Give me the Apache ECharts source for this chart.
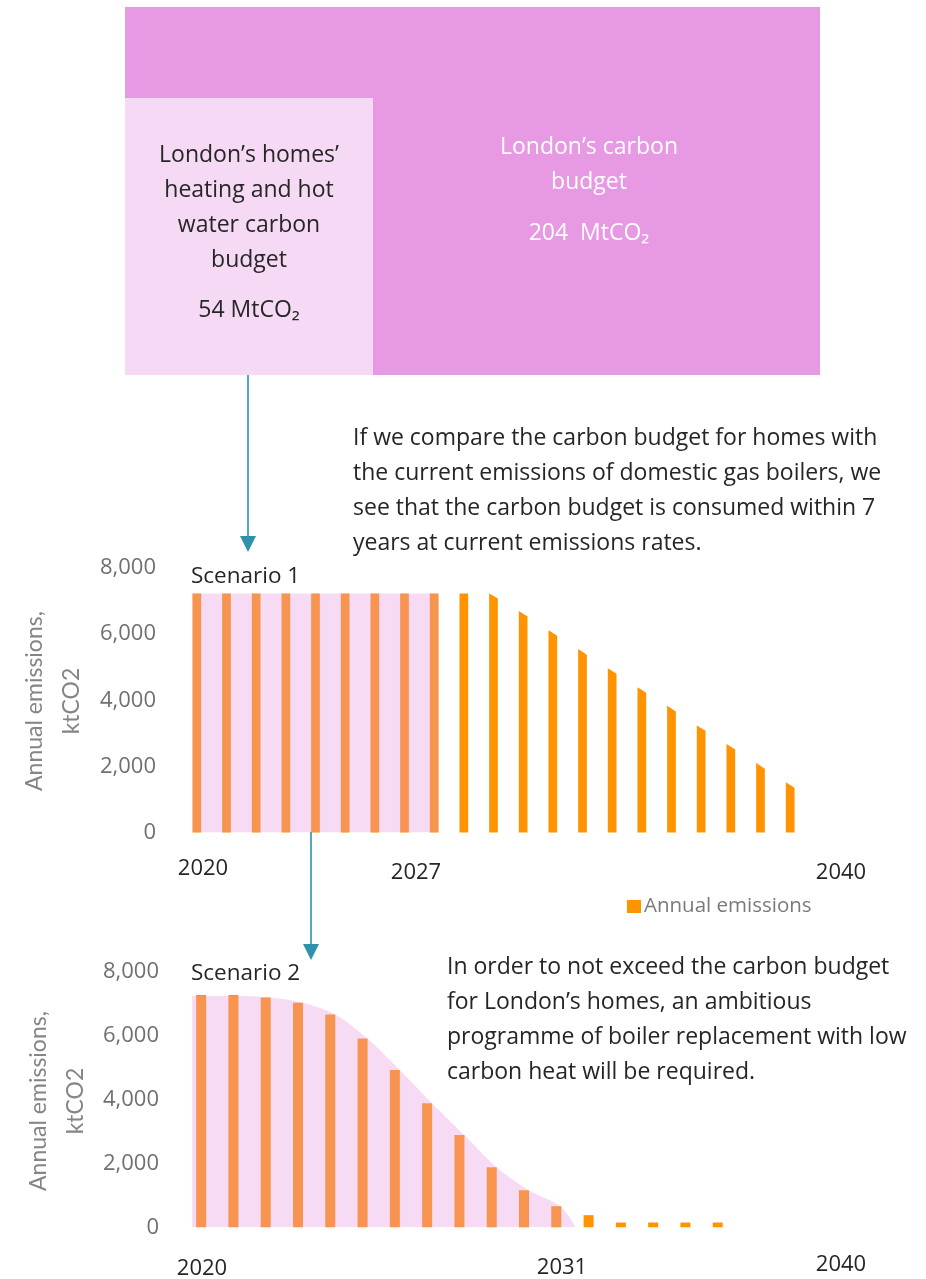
<!DOCTYPE html>
<html>
<head>
<meta charset="utf-8">
<script src="https://cdn.jsdelivr.net/npm/echarts@6/dist/echarts.min.js"></script>
<style>
  html, body { margin: 0; padding: 0; background: #fff; }
  #chart { width: 926px; height: 1279px; }
</style>
</head>
<body>
<div id="chart"></div>
<script>
// Scenario 1: current emissions, slowly falling after 2030
const years1 = [2020, 2021, 2022, 2023, 2024, 2025, 2026, 2027, 2028, 2029, 2030,
  2031, 2032, 2033, 2034, 2035, 2036, 2037, 2038, 2039, 2040]
const scenario1 = [7230, 7230, 7230, 7230, 7230, 7230, 7230, 7230, 7230, 7230, 7230,
  6700, 6120, 5550, 4970, 4390, 3830, 3240, 2680, 2100, 1520]
// years whose emissions use up the homes' budget (shaded)
const budget1Years = [2020, 2028]
const budget1Level = 7230
const scenario1Labels = ['2020', '2027', '2040']

// Scenario 2: rapid boiler replacement
const years2 = [2020, 2021, 2022, 2023, 2024, 2025, 2026, 2027, 2028, 2029, 2030,
  2031, 2032, 2033, 2034, 2035, 2036]
const scenario2 = [7280, 7280, 7200, 7040, 6670, 5920, 4930, 3890, 2890, 1880, 1160,
  660, 380, 150, 150, 150, 150]
// outline of the shaded budget curve (x in years, y in ktCO2)
const budget2X = [2019.72, 2020.15, 2021.15, 2022.15, 2023.15, 2024.15, 2025.15, 2026.15,
  2027.15, 2028.15, 2029.15, 2030.15, 2031.15, 2031.6]
const budget2Y = [7250, 7250, 7250, 7200, 7040, 6670, 5920, 4930, 3890, 2890, 1880, 1160, 640, 0]
const scenario2Labels = ['2020', '2031', '2040']

const yTicks = { min: 0, max: 8000, interval: 2000 }

const ORANGE = '#FF9300'
const PINK = '#E799E3'
const PINK_LIGHT = '#F6D9F4'
const PINK_OVERLAY = 'rgba(231, 152, 226, 0.35)'
const TEAL = '#2E91AE'
const DARK = '#262626'
const GREY = '#707070'
const FONT = '"Open Sans", "Noto Sans", sans-serif'
const NAME_FONT = 'Lato, "Noto Sans", sans-serif'

const barW1 = 8.7 // px
const halfYear1 = 0.147 // half bar width in years on chart 1

const chart = echarts.init(document.getElementById('chart'))

const yAxisBase = (gridIndex) => ({
  gridIndex,
  type: 'value',
  min: yTicks.min,
  max: yTicks.max,
  interval: yTicks.interval,
  axisLine: { show: false },
  axisTick: { show: false },
  splitLine: { show: false },
  axisLabel: {
    margin: 26,
    color: GREY,
    fontSize: 22,
    fontFamily: FONT,
    formatter: (v) => v.toLocaleString('en-US'),
  },
})

const data1 = years1.map((y, i) => {
  const v = scenario1[i]
  const next = i < scenario1.length - 1 ? scenario1[i + 1] : v + (v - scenario1[i - 1])
  return [y, v, next]
})

const text = (str, x, y, opts = {}) => ({
  type: 'text',
  x,
  y,
  z: 20,
  rotation: opts.rotation || 0,
  style: {
    text: str,
    fill: opts.fill || DARK,
    font: `${opts.size || 21}px ${opts.family || FONT}`,
    align: opts.align || 'left',
    verticalAlign: opts.va || 'middle',
    lineHeight: opts.lineHeight || 35,
  },
})

const arrow = (x, y1, y2) => [
  { type: 'line', z: 15, shape: { x1: x, y1, x2: x, y2: y2 - 14 }, style: { stroke: TEAL, lineWidth: 1.6 } },
  { type: 'polygon', z: 15, shape: { points: [[x - 8, y2 - 16], [x + 8, y2 - 16], [x, y2]] }, style: { fill: TEAL } },
]

const graphics = [
  { type: 'rect', z: 1, shape: { x: 125, y: 7, width: 695, height: 368 }, style: { fill: PINK } },
  { type: 'rect', z: 2, shape: { x: 125, y: 98, width: 248, height: 277 }, style: { fill: PINK_LIGHT } },
  text('London’s homes’\nheating and hot\nwater carbon\nbudget', 249, 137.5, { align: 'center', va: 'top', size: 23 }),
  text('54 MtCO₂', 249, 310, { align: 'center', size: 23 }),
  text('London’s carbon\nbudget', 589, 130, { align: 'center', va: 'top', size: 23, fill: '#ffffff' }),
  text('204  MtCO₂', 589, 233, { align: 'center', size: 23, fill: '#ffffff' }),
  ...arrow(248, 375, 552),
  text('If we compare the carbon budget for homes with\nthe current emissions of domestic gas boilers, we\nsee that the carbon budget is consumed within 7\nyears at current emissions rates.',
    353, 421, { va: 'top', size: 23 }),
  text('Scenario 1', 191, 577, { size: 22.5 }),
  text('Annual emissions,\nktCO2', 53.5, 701, { align: 'center', size: 23, fill: '#858585', rotation: Math.PI / 2, lineHeight: 37, family: NAME_FONT }),
  text(scenario1Labels[0], 203, 869, { align: 'center', size: 22 }),
  text(scenario1Labels[1], 416, 873, { align: 'center', size: 22 }),
  text(scenario1Labels[2], 841, 873, { align: 'center', size: 22 }),
  ...arrow(311, 832, 960),
  text('In order to not exceed the carbon budget\nfor London’s homes, an ambitious\nprogramme of boiler replacement with low\ncarbon heat will be required.',
    447, 949.5, { va: 'top', size: 23 }),
  text('Scenario 2', 191, 974, { size: 22.5 }),
  text('Annual emissions,\nktCO2', 57, 1101, { align: 'center', size: 23, fill: '#858585', rotation: Math.PI / 2, lineHeight: 37, family: NAME_FONT }),
  text(scenario2Labels[0], 202, 1269, { align: 'center', size: 22 }),
  text(scenario2Labels[1], 562, 1268, { align: 'center', size: 22 }),
  text(scenario2Labels[2], 841, 1265, { align: 'center', size: 22 }),
]

chart.setOption({
  animation: false,
  backgroundColor: '#ffffff',
  grid: [
    { left: 182, top: 568, width: 623, height: 264.5 },
    { left: 185, top: 972, width: 678, height: 255.3 },
  ],
  xAxis: [
    { gridIndex: 0, type: 'value', min: 2019.5, max: 2040.5, show: false },
    { gridIndex: 1, type: 'value', min: 2019.5, max: 2040.5, show: false },
  ],
  yAxis: [yAxisBase(0), yAxisBase(1)],
  legend: {
    data: ['Annual emissions'],
    left: 627,
    top: 896,
    padding: 0,
    icon: 'rect',
    itemWidth: 14,
    itemHeight: 13,
    itemGap: 10,
    textStyle: { fontSize: 20.5, color: '#7a7a7a', fontFamily: FONT, padding: [0, 0, 0, -2] },
  },
  series: [
    {
      name: 'Annual emissions',
      type: 'custom',
      xAxisIndex: 0,
      yAxisIndex: 0,
      z: 2,
      itemStyle: { color: ORANGE },
      encode: { x: 0, y: 1 },
      data: data1,
      renderItem: (params, api) => {
        const year = api.value(0)
        const p0 = api.coord([year, api.value(1)])
        const p1 = api.coord([year + 1, api.value(2)])
        const base = api.coord([year, 0])[1]
        const slope = (p1[1] - p0[1]) / (p1[0] - p0[0])
        const l = p0[0] - barW1 / 2
        const r = p0[0] + barW1 / 2
        return {
          type: 'polygon',
          shape: { points: [[l, base], [l, p0[1]], [r, p0[1] + slope * barW1], [r, base]] },
          style: { fill: ORANGE },
        }
      },
    },
    {
      name: 'Budget 1',
      type: 'line',
      xAxisIndex: 0,
      yAxisIndex: 0,
      z: 3,
      silent: true,
      symbol: 'none',
      lineStyle: { width: 0 },
      areaStyle: { color: PINK_OVERLAY, opacity: 1 },
      data: [[budget1Years[0] - halfYear1, budget1Level], [budget1Years[1] + halfYear1, budget1Level]],
    },
    {
      name: 'Annual emissions',
      type: 'bar',
      xAxisIndex: 1,
      yAxisIndex: 1,
      z: 2,
      barWidth: 10,
      itemStyle: { color: ORANGE },
      data: years2.map((y, i) => [y, scenario2[i]]),
    },
    {
      name: 'Budget 2',
      type: 'line',
      xAxisIndex: 1,
      yAxisIndex: 1,
      z: 3,
      silent: true,
      smooth: 0.3,
      symbol: 'none',
      lineStyle: { width: 0 },
      areaStyle: { color: PINK_OVERLAY, opacity: 1 },
      data: budget2X.map((x, i) => [x, budget2Y[i]]),
    },
  ],
  graphic: graphics,
})

window.addEventListener('resize', () => chart.resize())
</script>
</body>
</html>
